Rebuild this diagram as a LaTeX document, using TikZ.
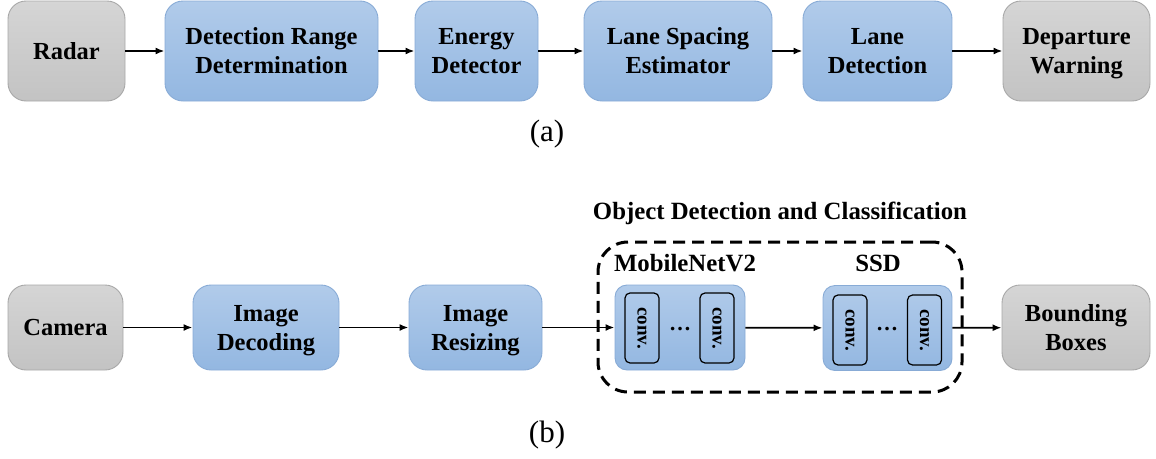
\documentclass[tikz,border=0pt]{standalone}
\usepackage{fontspec}
\setmainfont{Liberation Serif}[BoldFont={Liberation Serif Bold},ItalicFont={Liberation Serif Italic}]
\usetikzlibrary{arrows.meta}
\definecolor{bluetop}{HTML}{B1CBEA}
\definecolor{bluebot}{HTML}{93B7E1}
\definecolor{blueedge}{HTML}{88ABD6}
\definecolor{graytop}{HTML}{D5D5D5}
\definecolor{graybot}{HTML}{C3C3C3}
\definecolor{grayedge}{HTML}{A8A8A8}
\newcommand{\btext}[1]{\begin{tabular}{@{}c@{}}\rule{0pt}{24.7pt}#1\end{tabular}}
\tikzset{
  x=1pt, y=-1pt,
  boxbase/.style={rounded corners=18pt, line width=0.9pt,
    font=\fontsize{24.5}{29}\selectfont\bfseries, inner sep=0pt},
  bluebox/.style={boxbase, draw=blueedge, top color=bluetop, bottom color=bluebot},
  graybox/.style={boxbase, draw=grayedge, top color=graytop, bottom color=graybot},
  convbox/.style={draw=black, line width=1.2pt, rounded corners=5pt,
    minimum width=34pt, minimum height=70pt, inner sep=0pt},
  convtext/.style={font=\fontsize{19}{22}\selectfont\bfseries, rotate=-90},
  conn/.style={line width=1.8pt, -{Latex[length=9pt,width=7pt]}},
  caplabel/.style={font=\fontsize{31}{34}\selectfont},
  grouplabel/.style={font=\fontsize{24.8}{28}\selectfont\bfseries},
}
\begin{document}
\begin{tikzpicture}
\useasboundingbox (0,0) rectangle (1156,458);
% row (a)
\node[graybox, minimum width=117pt, minimum height=100pt] (radar) at (66.5,51) {\btext{Radar}};
\node[bluebox, minimum width=213pt, minimum height=100pt] (drd) at (271.5,51) {\btext{Detection Range\\Determination}};
\node[bluebox, minimum width=123pt, minimum height=100pt] (ed) at (476.5,51) {\btext{Energy\\Detector}};
\node[bluebox, minimum width=188pt, minimum height=100pt] (lse) at (678,51) {\btext{Lane Spacing\\Estimator}};
\node[bluebox, minimum width=149pt, minimum height=100pt] (ld) at (877.5,51) {\btext{Lane\\Detection}};
\node[graybox, minimum width=147pt, minimum height=100pt] (dw) at (1076.5,51) {\btext{Departure\\Warning}};
\draw[conn] (radar) -- (drd);
\draw[conn] (drd) -- (ed);
\draw[conn] (ed) -- (lse);
\draw[conn] (lse) -- (ld);
\draw[conn] (ld) -- (dw);
\node[caplabel] (capa) at (547,134) {(a)};
% row (b)
\node[graybox, minimum width=115pt, minimum height=85pt] (cam) at (65.5,327.5) {\btext{Camera}};
\node[bluebox, minimum width=146pt, minimum height=85pt] (dec) at (266,327.5) {\btext{Image\\Decoding}};
\node[bluebox, minimum width=133pt, minimum height=85pt] (res) at (475.5,327.5) {\btext{Image\\Resizing}};
\node[draw=black, dashed, dash pattern=on 12pt off 7pt, line width=3pt, rounded corners=30pt,
  minimum width=364pt, minimum height=150pt, inner sep=0pt] (group) at (780,317) {};
\node[grouplabel] (grouptitle) at (780,213) {Object Detection and Classification};
\node[bluebox, rounded corners=12pt, minimum width=130pt, minimum height=85pt] (mob) at (680,327.5) {};
\node[bluebox, rounded corners=12pt, minimum width=129pt, minimum height=85pt] (ssd) at (887.5,328) {};
\node[grouplabel] (moblabel) at (685,263) {MobileNetV2};
\node[grouplabel] (ssdlabel) at (878,263) {SSD};
\node[convbox] (m1) at (642,328) {};
\node[convbox] (m2) at (717,328) {};
\node[convbox] (s1) at (850,330) {};
\node[convbox] (s2) at (924.5,330) {};
\node[convtext] (m1t) at (m1) {conv.};
\node[convtext] (m2t) at (m2) {conv.};
\node[convtext] (s1t) at (s1) {conv.};
\node[convtext] (s2t) at (s2) {conv.};
\node[font=\fontsize{22}{26}\selectfont\bfseries] (mdots) at (680,329) {…};
\node[font=\fontsize{22}{26}\selectfont\bfseries] (sdots) at (887,329) {…};
\node[graybox, minimum width=148pt, minimum height=85pt] (bb) at (1076,327.5) {\btext{Bounding\\Boxes}};
\draw[conn] (cam) -- (dec);
\draw[conn] (dec) -- (res);
\draw[conn] (res) -- (mob);
\draw[conn] (mob) -- (ssd);
\draw[conn] (ssd) -- (bb);
\node[caplabel] (capb) at (547,435) {(b)};
\end{tikzpicture}
\end{document}
